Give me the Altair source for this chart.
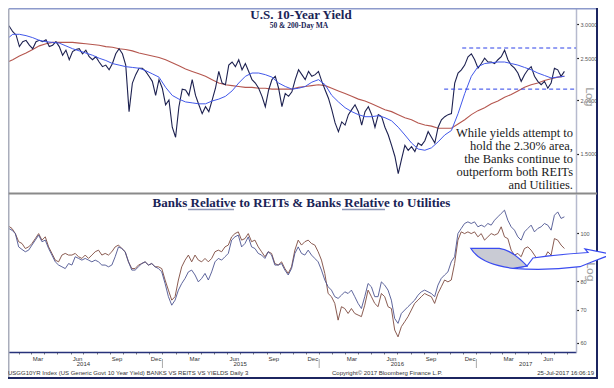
import altair as alt
import pandas as pd

# ---------------- data ----------------
# US 10-year yield (%), roughly every 8 days, Jan-2014 .. Jul-2017
yield_10y = [
    3.02, 2.96, 2.88, 2.83, 2.66, 2.73, 2.75, 2.68, 2.63, 2.73,
    2.75, 2.73, 2.76, 2.66, 2.68, 2.73, 2.66, 2.54, 2.61, 2.48,
    2.59, 2.62, 2.63, 2.56, 2.61, 2.52, 2.48, 2.52, 2.45, 2.39,
    2.41, 2.35, 2.43, 2.56, 2.63, 2.56, 2.41, 1.88, 2.19, 2.29,
    2.37, 2.37, 2.33, 2.27, 2.21, 2.05, 2.23, 2.13, 1.95, 2.00,
    1.73, 1.64, 1.93, 2.12, 2.11, 2.05, 2.23, 2.05, 1.95, 1.86,
    1.93, 1.88, 2.00, 2.13, 2.33, 2.19, 2.17, 2.41, 2.45, 2.39,
    2.48, 2.35, 2.43, 2.33, 2.23, 2.19, 2.13, 2.04, 1.93, 2.11,
    2.23, 2.27, 2.13, 1.93, 2.07, 2.04, 2.09, 2.23, 2.35, 2.29,
    2.23,
    2.33, 2.27, 2.29, 2.33, 2.21, 2.11, 2.02, 1.90, 1.77, 1.69,
    1.78, 1.75, 1.85, 1.90, 1.95, 1.88, 1.75, 1.88, 1.93, 1.85,
    1.73, 1.85, 1.83, 1.73, 1.66, 1.57, 1.48, 1.35, 1.46, 1.57,
    1.53, 1.56, 1.52, 1.59, 1.57, 1.61, 1.69, 1.64, 1.59, 1.73,
    1.80, 1.83, 1.85, 1.86, 2.19, 2.31, 2.35, 2.41, 2.52, 2.56,
    2.48, 2.37, 2.43, 2.50, 2.45, 2.45, 2.43, 2.48, 2.52, 2.61,
    2.48, 2.41, 2.37, 2.31, 2.21, 2.29, 2.35, 2.39, 2.27, 2.21,
    2.17, 2.21, 2.13, 2.19, 2.37, 2.35, 2.27, 2.33,
]
# 50-day and 200-day moving averages, roughly every 15 days
ma_50 = [
    2.76, 2.84, 2.84, 2.82, 2.79, 2.75, 2.73, 2.72, 2.71, 2.67,
    2.63, 2.60, 2.57, 2.54, 2.50, 2.47, 2.43, 2.41, 2.39, 2.38,
    2.37, 2.34, 2.30, 2.26, 2.14, 2.05, 2.01, 1.98, 1.97, 1.96,
    1.96, 1.99, 2.01, 2.04, 2.10, 2.19, 2.27, 2.31, 2.31, 2.29,
    2.26, 2.19, 2.15, 2.12, 2.13, 2.15,
    2.20, 2.23, 2.17, 2.05, 1.98, 1.92, 1.88, 1.85, 1.83, 1.83,
    1.84, 1.82, 1.79, 1.73, 1.66, 1.59, 1.54, 1.53, 1.55, 1.60,
    1.66, 1.70, 1.86, 2.07, 2.27, 2.39, 2.43, 2.44, 2.45, 2.45,
    2.43, 2.41, 2.38, 2.35, 2.31, 2.28, 2.25, 2.26, 2.27,
]
ma_200 = [
    2.44, 2.48, 2.53, 2.57, 2.62, 2.67, 2.70, 2.72, 2.72, 2.72,
    2.72, 2.71, 2.70, 2.69, 2.68, 2.66, 2.65, 2.63, 2.62, 2.60,
    2.57, 2.55, 2.53, 2.51, 2.48, 2.44, 2.40, 2.36, 2.33, 2.30,
    2.27, 2.23, 2.19, 2.17, 2.16, 2.15, 2.14, 2.14, 2.13, 2.13,
    2.12, 2.12, 2.12, 2.12, 2.14, 2.15,
    2.16, 2.17, 2.16, 2.13, 2.10, 2.07, 2.04, 2.01, 1.99, 1.96,
    1.93, 1.90, 1.88, 1.85, 1.82, 1.80, 1.77, 1.75, 1.74, 1.72,
    1.72, 1.72, 1.76, 1.80, 1.85, 1.89, 1.92, 1.96, 1.99, 2.03,
    2.06, 2.10, 2.14, 2.17, 2.19, 2.22, 2.24, 2.26, 2.27,
]
# Banks relative to REITs (brown) and to Utilities (blue), roughly every 8 days
banks_vs_reits = [
    103.3, 102.2, 99.8, 96.1, 95.3, 93.1, 93.8, 95.3, 97.5, 99.8,
    96.8, 98.3, 93.8, 91.0, 88.2, 87.5, 90.3, 91.0, 90.3, 90.3,
    91.0, 89.6, 88.9, 90.3, 88.9, 90.3, 91.7, 92.4, 90.3, 91.0,
    90.3, 91.7, 93.8, 94.6, 93.1, 91.7, 87.5, 84.8, 84.8, 86.2,
    86.8, 87.5, 86.2, 86.8, 85.5, 85.5, 84.8, 80.4, 76.7, 73.2,
    74.4, 80.4, 85.5, 88.2, 90.3, 87.5, 90.3, 88.2, 87.5, 88.9,
    87.5, 88.9, 91.7, 92.4, 91.7, 93.8, 94.6, 98.3, 99.8, 100.6,
    96.8, 97.5, 99.8, 96.1, 96.8, 93.8, 91.7, 89.6, 91.7, 91.0,
    86.8, 86.2, 87.5, 84.8, 82.9, 85.5, 92.4, 96.8, 94.6, 96.1,
    96.8, 95.3, 94.6, 91.7, 88.2, 82.9, 75.5, 74.4, 72.1, 66.7,
    71.0, 70.4, 68.8, 70.4, 68.8, 68.3, 67.8, 71.5, 76.7, 74.4,
    72.1, 71.0, 75.5, 74.4, 71.0, 70.4, 63.7, 61.7, 64.7, 66.2,
    67.8, 69.9, 72.1, 73.2, 74.4, 75.5, 74.9, 74.4, 72.1, 75.5,
    77.9, 80.4, 79.7, 80.4, 86.8, 96.8, 100.6, 99.8, 100.6, 99.8,
    100.6, 98.3, 99.8, 96.8, 98.3, 99.8, 99.1, 99.8, 103.0, 98.3,
    97.5, 92.4, 90.3, 91.0, 89.6, 93.1, 93.8, 92.4, 90.3, 88.2,
    87.5, 88.9, 91.7, 90.3, 97.5, 96.8, 94.6, 93.1,
]
banks_vs_utilities = [
    102.2, 101.4, 99.8, 93.8, 92.7, 91.7, 92.4, 94.6, 96.8, 99.1,
    96.1, 96.8, 93.1, 90.3, 87.5, 86.2, 85.5, 84.8, 86.8, 86.2,
    89.6, 88.9, 88.2, 88.9, 88.2, 87.5, 88.2, 87.5, 86.2, 86.2,
    85.5, 86.2, 89.6, 93.8, 93.1, 91.7, 87.5, 84.2, 84.2, 85.5,
    86.8, 87.5, 86.2, 86.8, 85.5, 84.8, 83.5, 79.1, 74.4, 71.5,
    73.2, 76.7, 79.1, 81.0, 83.5, 84.2, 82.3, 79.7, 81.0, 82.9,
    80.4, 83.5, 87.5, 88.9, 88.2, 89.6, 91.0, 96.8, 98.3, 99.1,
    93.8, 95.3, 98.3, 93.8, 93.1, 91.0, 90.3, 88.9, 91.7, 90.3,
    86.2, 86.2, 86.8, 84.2, 82.3, 84.8, 91.0, 93.8, 91.0, 90.3,
    92.4, 90.3, 88.9, 87.5, 84.2, 80.4, 77.9, 76.7, 74.4, 73.8,
    74.9, 76.1, 75.5, 76.7, 74.4, 72.1, 70.4, 74.4, 79.1, 77.9,
    74.4, 74.4, 79.7, 78.5, 76.7, 73.2, 67.2, 65.7, 68.8, 69.9,
    71.0, 72.1, 73.2, 74.9, 76.1, 76.7, 76.1, 75.5, 74.4, 78.5,
    81.0, 82.3, 83.5, 87.5, 89.6, 99.8, 102.2, 104.6, 105.4, 104.6,
    105.4, 103.0, 103.8, 103.0, 104.6, 103.8, 106.2, 107.9, 109.6, 111.3,
    106.2, 103.0, 101.4, 98.3, 96.8, 100.6, 102.2, 103.8, 100.6, 102.2,
    103.0, 104.6, 103.8, 101.4, 108.7, 110.4, 107.1, 107.9,
]

band_levels = [2.64, 2.12]
band_starts = ["2016-11-29", "2016-10-18"]
band_end = "2017-08-21"
top_ticks = [1.5, 2.0, 2.5, 3.0]
bottom_ticks = [60, 70, 80, 90, 100]
year_labels = ["2014", "2015", "2016", "2017"]
year_label_dates = ["2014-07-01", "2015-07-01", "2016-07-01", "2017-04-26"]
year_breaks = ["2015-01-01", "2016-01-01", "2017-01-01"]
note_lines = ["While yields attempt to", "hold the 2.30% area,",
              "the Banks continue to", "outperform both REITs", "and Utilities."]

# ---------------- tables ----------------
df_yield = pd.DataFrame({"date": pd.date_range("2014-01-02", "2017-07-25", periods=len(yield_10y)),
                         "v": yield_10y})
ma_dates = pd.date_range("2014-01-02", "2017-07-25", periods=len(ma_50))
df_ma50 = pd.DataFrame({"date": ma_dates, "v": ma_50})
df_ma200 = pd.DataFrame({"date": ma_dates, "v": ma_200})
low_dates = pd.date_range("2014-01-08", "2017-07-25", periods=len(banks_vs_reits))
df_reits = pd.DataFrame({"date": low_dates, "v": banks_vs_reits})
df_util = pd.DataFrame({"date": low_dates, "v": banks_vs_utilities})
df_band = pd.DataFrame({"start": pd.to_datetime(band_starts), "end": pd.to_datetime([band_end] * 2),
                        "level": band_levels})
df_years = pd.DataFrame({"date": pd.to_datetime(year_label_dates), "t": year_labels})
df_breaks = pd.DataFrame({"date": pd.to_datetime(year_breaks)})

W, H = 568, 344
NAVY = "#1c2560"
SERIF = "Liberation Serif"
SANS = "Liberation Sans"

month_vals = [alt.DateTime(year=d.year, month=d.month, date=1)
              for d in pd.date_range("2014-01-01", "2017-08-01", freq="MS")]
xscale = alt.Scale(domain=[alt.DateTime(year=2014, month=1, date=6, hours=10),
                           alt.DateTime(year=2017, month=8, date=21)])
xaxis = alt.Axis(values=month_vals, title=None, grid=False,
                 labelExpr="(month(datum.value) % 3 == 2) ? timeFormat(datum.value, '%b') : ''",
                 labelOffset=6.5, labelFont=SANS, labelFontSize=6, labelColor="#333",
                 labelPadding=1, labelFlush=False, labelOverlap=False, labelBound=False,
                 tickSize=2, tickColor="#555", tickWidth=0.8,
                 domainColor="#27327a", domainWidth=1.5)


def X(field):
    return alt.X(f"{field}:T", scale=xscale, axis=xaxis)


yaxis_common = dict(orient="right", title=None, grid=False, domainColor="#b6bace",
                    domainWidth=1.5, tickColor="#222", tickSize=2.5, tickWidth=1.2,
                    labelFont=SANS, labelFontSize=5.5, labelColor="#555", labelPadding=1.5)
top_scale = alt.Scale(type="log", domain=[1.218, 3.268], range=[185, 0], nice=False)
top_axis = alt.Axis(values=top_ticks, format=".4f", **yaxis_common)
bot_scale = alt.Scale(type="log", domain=[57.5, 120], range=[344, 186], nice=False)
bot_axis = alt.Axis(values=bottom_ticks, format="d", **yaxis_common)


def YT(field):
    return alt.Y(f"{field}:Q", scale=top_scale, axis=top_axis)


def YB(field):
    return alt.Y(f"{field}:Q", scale=bot_scale, axis=bot_axis)


# ---------------- top panel ----------------
top = alt.layer(
    alt.Chart(df_ma200).mark_line(color="#b5574f", strokeWidth=1.1, clip=True).encode(x=X("date"), y=YT("v")),
    alt.Chart(df_yield).mark_line(color="#1d2150", strokeWidth=1.1, clip=True).encode(x=X("date"), y=YT("v")),
    alt.Chart(df_ma50).mark_line(color="#4258ea", strokeWidth=1.0, clip=True).encode(x=X("date"), y=YT("v")),
    alt.Chart(df_band).mark_rule(color="#2c40e8", strokeWidth=1, strokeDash=[4, 3]).encode(
        x=X("start"), x2="end:T", y=YT("level")),
)

# ---------------- bottom panel ----------------
bottom = alt.layer(
    alt.Chart(df_reits).mark_line(color="#7d4a3e", strokeWidth=0.9, clip=True).encode(x=X("date"), y=YB("v")),
    alt.Chart(df_util).mark_line(color="#4c5391", strokeWidth=0.9, clip=True).encode(x=X("date"), y=YB("v")),
)

one = pd.DataFrame({"a": [0]})


def text(t, x, y, **kw):
    return alt.Chart(one).mark_text(text=t, **kw).encode(x=alt.value(x), y=alt.value(y))


def rule(x, x2, y, y2, **kw):
    return alt.Chart(one).mark_rule(**kw).encode(
        x=alt.value(x), x2=alt.value(x2), y=alt.value(y), y2=alt.value(y2))


# arrow shapes (pixel paths, size 4 => unit scale)
arrow_white = ("M-27,10.3 Q5,13 40,8.7 L51.7,4 L71.7,-3.7 L45,-9 L48,-5.5 "
               "Q20,-4 -7,0 L-13,8 Z")
arrow_grey = "M-69.3,-9.7 L-40.7,-9.7 Q-28,-8 -13,8 L-27,10.3 Q-60,6 -69.3,-9.7 Z"

decor = [
    # frame
    rule(0.75, 589, 0.75, 0.75, color="#8d9acb", strokeWidth=1.5),
    rule(0.75, 0.75, 0.75, 370, color="#a9adbb", strokeWidth=1.5),
    rule(589, 589, 0, 371, color=NAVY, strokeWidth=2),
    rule(0, 590, 370, 370, color=NAVY, strokeWidth=2),
    rule(0.75, 589, 185.5, 185.5, color="#8a8a8a", strokeWidth=2.2),
    # titles
    text("U.S. 10-Year Yield", 293, 10.5, font=SERIF, fontSize=13, fontWeight="bold",
         color="#1a2456", baseline="alphabetic"),
    text("50 & 200-Day MA", 291, 19.5, font=SERIF, fontSize=7.5, fontWeight="bold",
         color="#1a2456", baseline="alphabetic"),
    text("Banks Relative to REITs & Banks Relative to Utilities", 293.5, 195,
         font=SERIF, fontSize=13, fontWeight="bold", color="#1a2456", baseline="middle"),
    rule(180, 226, 201.5, 201.5, color="#8e97b6", strokeWidth=1.6),
    rule(334, 377, 201.5, 201.5, color="#8e97b6", strokeWidth=1.6),
    alt.Chart(pd.DataFrame({"t": ["\n".join(note_lines)]})).mark_text(
        font=SERIF, fontSize=12.5, color="#1a1a1a", align="right", baseline="middle",
        lineBreak="\n", lineHeight=13).encode(text="t:N", x=alt.value(565), y=alt.value(125)),
    # Log labels
    text("Log", 581, 89, font="DejaVu Sans", fontSize=11, color="#a3a3a3", angle=90,
         baseline="middle"),
    text("Log", 582, 264, font="DejaVu Sans", fontSize=11, color="#a3a3a3", angle=90,
         baseline="middle"),
    # footer
    text("USGG10YR Index (US Generic Govt 10 Year Yield) BANKS VS REITS VS YIELDS  Daily 3",
         0, 365, font=SANS, fontSize=6, color="#333", align="left", baseline="middle"),
    text("Copyright\u00a9 2017 Bloomberg Finance L.P.", 324, 365, font=SANS, fontSize=6,
         color="#333", align="left", baseline="middle"),
    text("25-Jul-2017 16:06:19", 586, 365, font=SANS, fontSize=6, color="#333",
         align="right", baseline="middle"),
    # year labels and separators on the time scale
    alt.Chart(df_years).mark_text(font=SANS, fontSize=6, color="#333", baseline="middle").encode(
        x=X("date"), y=alt.value(356), text="t:N"),
    alt.Chart(df_breaks).mark_rule(color="#aaa", strokeWidth=1).encode(
        x=X("date"), y=alt.value(351), y2=alt.value(360)),
    # arrow annotation
    alt.Chart(one).mark_point(shape=arrow_white, size=4, filled=True, fill="white", stroke="#3b4cf0",
                              strokeWidth=1.2, opacity=1, fillOpacity=1).encode(
        x=alt.value(532), y=alt.value(250)),
    alt.Chart(one).mark_point(shape=arrow_grey, size=4, filled=True, fill="#c9cbd4", stroke="#3b4cf0",
                              strokeWidth=1.2, opacity=1, fillOpacity=1).encode(
        x=alt.value(532), y=alt.value(250)),
]

chart = alt.layer(top, bottom, *decor).resolve_scale(y="independent").properties(
    width=W, height=H,
    autosize=alt.AutoSizeParams(type="none"),
    padding={"left": 0, "top": 0, "right": 30, "bottom": 27},
    background="white",
).configure_view(stroke=None)

chart.save("out.html", embed_options={"renderer": "svg", "actions": False})
